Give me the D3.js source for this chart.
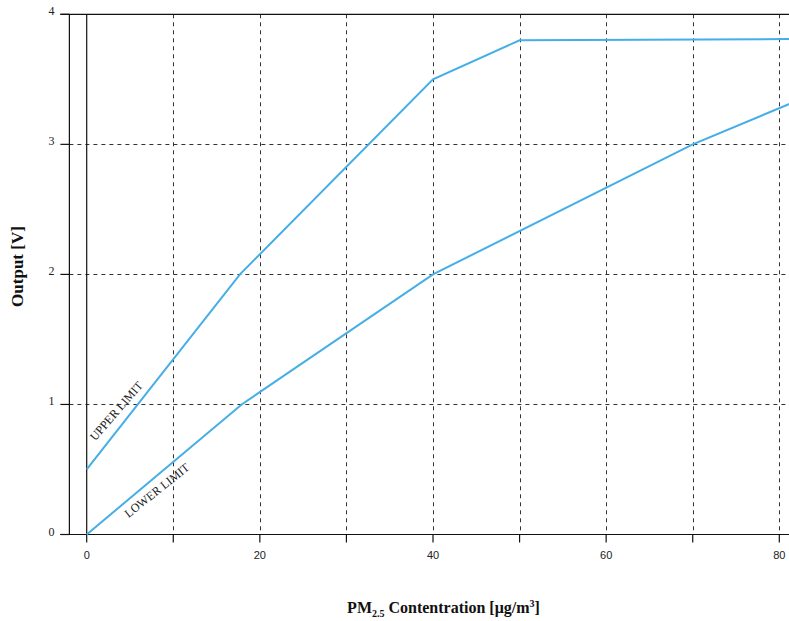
<!DOCTYPE html>
<html><head><meta charset="utf-8">
<script src="https://cdn.jsdelivr.net/npm/d3@7"></script>
<style>body{margin:0;background:#fff;} svg{display:block;}</style>
</head><body>
<script>
const upperX = [0, 17.7, 40, 50, 81.5];
const upperY = [0.5, 2.0, 3.5, 3.8, 3.81];
const lowerX = [0, 17.9, 40, 70, 81.5];
const lowerY = [0, 1.0, 2.0, 3.0, 3.32];
const xGridTicks = [10, 20, 30, 40, 50, 60, 70, 80];
const xTickMarks = [0, 10, 20, 30, 40, 50, 60, 70, 80];
const xTickLabels = [0, 20, 40, 60, 80];
const yGridTicks = [1, 2, 3];
const yTickLabels = [0, 1, 2, 3, 4];
const seriesLabels = ["UPPER LIMIT", "LOWER LIMIT"];

const W = 789, H = 621;
const svg = d3.select("body").append("svg").attr("width", W).attr("height", H);
const x = d3.scaleLinear().domain([0, 80]).range([86.7, 779.3]);
const y = d3.scaleLinear().domain([0, 4]).range([534.5, 14.3]);
const xLeft = x(-2), xRight = W;

svg.append("clipPath").attr("id", "c").append("rect")
  .attr("x", 0).attr("y", 0).attr("width", W).attr("height", H);

// dashed grid
const grid = svg.append("g").attr("stroke", "#333").attr("stroke-width", 1).attr("stroke-dasharray", "4,4");
grid.selectAll(".vg").data(xGridTicks).join("line")
  .attr("x1", d => Math.round(x(d)) + 0.5).attr("x2", d => Math.round(x(d)) + 0.5)
  .attr("y1", y(4)).attr("y2", y(0));
grid.selectAll(".hg").data(yGridTicks).join("line")
  .attr("x1", xLeft).attr("x2", xRight)
  .attr("y1", d => Math.round(y(d)) + 0.5).attr("y2", d => Math.round(y(d)) + 0.5);

// frame lines
const fr = svg.append("g").attr("stroke", "#111").attr("stroke-width", 1.2);
fr.append("line").attr("x1", xLeft).attr("x2", xLeft).attr("y1", y(4)).attr("y2", y(0));
fr.append("line").attr("x1", x(0)).attr("x2", x(0)).attr("y1", y(4)).attr("y2", y(0));
fr.append("line").attr("x1", xLeft - 9).attr("x2", xRight).attr("y1", y(4)).attr("y2", y(4));
fr.append("line").attr("x1", xLeft - 9).attr("x2", xRight).attr("y1", y(0)).attr("y2", y(0));

// y tick marks
fr.selectAll(".yt").data(yTickLabels).join("line")
  .attr("x1", xLeft - 9).attr("x2", xLeft)
  .attr("y1", d => y(d)).attr("y2", d => y(d));
// x tick marks
fr.selectAll(".xt").data(xTickMarks).join("line")
  .attr("x1", d => x(d)).attr("x2", d => x(d))
  .attr("y1", y(0)).attr("y2", y(0) + 8);

// tick labels
svg.append("g").selectAll("text").data(xTickLabels).join("text")
  .attr("x", d => x(d)).attr("y", y(0) + 24)
  .attr("text-anchor", "middle")
  .attr("font-family", "Liberation Sans, Arial, sans-serif").attr("font-size", 11).attr("fill", "#222")
  .text(d => d);
svg.append("g").selectAll("text").data(yTickLabels).join("text")
  .attr("x", xLeft - 15).attr("y", d => y(d) + 1)
  .attr("text-anchor", "end")
  .attr("font-family", "Liberation Serif, Times New Roman, serif").attr("font-size", 12).attr("fill", "#222")
  .text(d => d);

// lines
const line = d3.line().x(d => x(d[0])).y(d => y(d[1]));
const lg = svg.append("g").attr("clip-path", "url(#c)");
lg.append("path").datum(upperX.map((v, i) => [v, upperY[i]]))
  .attr("d", line).attr("fill", "none").attr("stroke", "#45aee6").attr("stroke-width", 2);
lg.append("path").datum(lowerX.map((v, i) => [v, lowerY[i]]))
  .attr("d", line).attr("fill", "none").attr("stroke", "#45aee6").attr("stroke-width", 2);

// series labels
const labelPos = [{x: 3.4, y: 0.95, a: -49}, {x: 8.1, y: 0.34, a: -38.5}];
svg.append("g").selectAll("text").data(seriesLabels).join("text")
  .attr("transform", (d, i) => `translate(${x(labelPos[i].x)},${y(labelPos[i].y)}) rotate(${labelPos[i].a})`)
  .attr("text-anchor", "middle").attr("dy", "0.35em")
  .attr("font-family", "Liberation Serif, Times New Roman, serif").attr("font-size", 12).attr("fill", "#222")
  .text(d => d);

// axis titles
svg.append("text")
  .attr("transform", `translate(23,266.5) rotate(-90)`)
  .attr("text-anchor", "middle")
  .attr("font-family", "Liberation Serif, Times New Roman, serif").attr("font-size", 17).attr("font-weight", "bold").attr("fill", "#111")
  .text("Output [V]");

const xt = svg.append("text")
  .attr("x", 443.5).attr("y", 613)
  .attr("text-anchor", "middle")
  .attr("font-family", "Liberation Serif, Times New Roman, serif").attr("font-size", 16).attr("font-weight", "bold").attr("fill", "#111");
xt.append("tspan").text("PM");
xt.append("tspan").attr("font-size", 10).attr("dy", 4).text("2.5");
xt.append("tspan").attr("dy", -4).text(" Contentration [μg/m");
xt.append("tspan").attr("font-size", 10).attr("dy", -6).text("3");
xt.append("tspan").attr("dy", 6).text("]");
</script>
</body></html>
